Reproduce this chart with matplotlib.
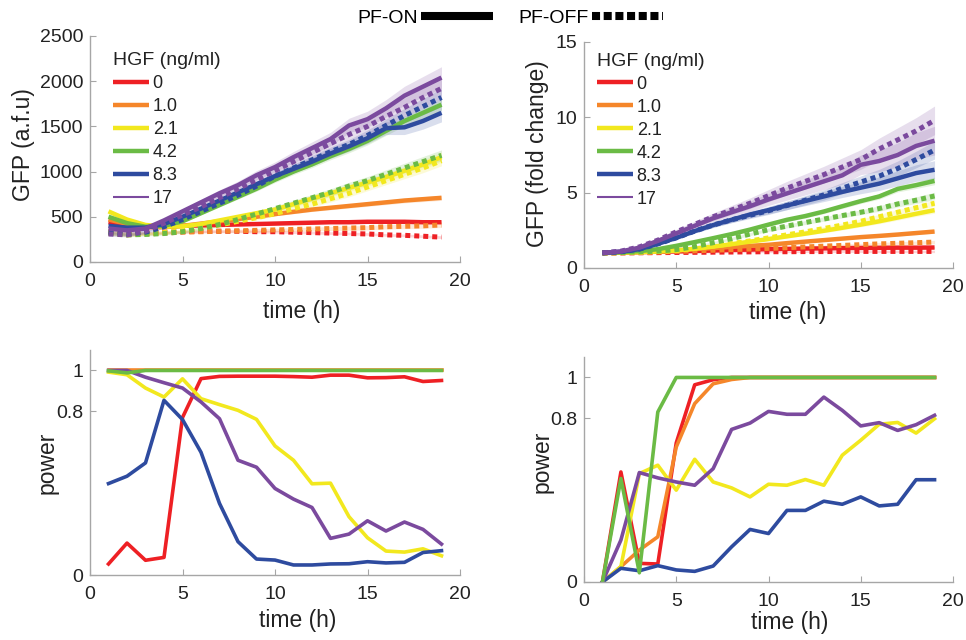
import matplotlib
matplotlib.use("Agg")
import matplotlib.pyplot as plt
from matplotlib.lines import Line2D

plt.rcParams['font.family'] = ['Liberation Sans', 'DejaVu Sans']

hours = [1, 2, 3, 4, 5, 6, 7, 8, 9, 10, 11, 12, 13, 14, 15, 16, 17, 18, 19]
hgf_labels = ['0', '1.0', '2.1', '4.2', '8.3', '17']
colors = ['#EE2024', '#F5862A', '#F2E81E', '#6BBB45', '#2E4B9F', '#7B4A9E']

# --- GFP (a.f.u), PF-ON (solid) ---
gfp_on_0 = [440, 410, 385, 390, 400, 405, 410, 415, 420, 425, 430, 435, 440, 440, 445, 445, 445, 440, 440]
gfp_on_1 = [470, 420, 390, 385, 400, 425, 450, 475, 500, 530, 555, 580, 600, 620, 640, 660, 680, 695, 710]
gfp_on_2 = [560, 470, 410, 390, 395, 420, 460, 500, 540, 580, 640, 700, 760, 820, 880, 940, 1010, 1080, 1160]
gfp_on_4 = [500, 430, 390, 400, 450, 540, 630, 720, 810, 910, 1000, 1080, 1170, 1250, 1340, 1450, 1560, 1650, 1740]
gfp_on_8 = [400, 380, 380, 420, 500, 590, 680, 770, 860, 950, 1030, 1110, 1200, 1280, 1370, 1480, 1490, 1560, 1650]
gfp_on_17 = [370, 350, 370, 460, 560, 660, 760, 850, 960, 1050, 1160, 1260, 1360, 1510, 1580, 1700, 1840, 1940, 2040]
# --- GFP (a.f.u), PF-OFF (dotted) ---
gfp_off_0 = [340, 315, 320, 330, 335, 340, 340, 340, 335, 335, 330, 325, 320, 315, 310, 300, 295, 285, 275]
gfp_off_1 = [320, 300, 310, 320, 330, 335, 340, 345, 350, 355, 360, 365, 370, 375, 380, 390, 395, 400, 410]
gfp_off_2 = [330, 310, 315, 325, 345, 375, 410, 450, 490, 535, 590, 640, 700, 760, 830, 900, 970, 1040, 1120]
gfp_off_4 = [320, 300, 305, 315, 335, 370, 415, 470, 530, 590, 650, 710, 770, 840, 900, 970, 1040, 1110, 1180]
gfp_off_8 = [330, 310, 330, 390, 470, 560, 650, 740, 840, 950, 1040, 1130, 1220, 1300, 1400, 1510, 1620, 1720, 1820]
gfp_off_17 = [310, 300, 340, 430, 520, 610, 710, 810, 910, 1010, 1110, 1210, 1310, 1410, 1500, 1610, 1710, 1820, 1920]
# band half-widths (a.f.u)
gfp_sd_0 = [20, 18, 16, 15, 15, 15, 15, 15, 15, 15, 15, 15, 15, 15, 15, 15, 15, 15, 15]
gfp_sd_1 = [20, 18, 16, 15, 15, 15, 16, 17, 18, 19, 20, 21, 22, 23, 24, 25, 26, 27, 28]
gfp_sd_2 = [25, 20, 18, 16, 16, 17, 19, 21, 24, 27, 30, 33, 36, 39, 42, 45, 48, 52, 56]
gfp_sd_4 = [25, 20, 18, 16, 16, 18, 21, 24, 27, 30, 33, 36, 39, 42, 45, 49, 53, 57, 60]
gfp_sd_8 = [25, 20, 18, 18, 20, 24, 28, 32, 36, 40, 44, 48, 52, 56, 60, 70, 80, 90, 100]
gfp_sd_17 = [25, 22, 20, 22, 26, 32, 38, 44, 50, 56, 62, 68, 74, 80, 88, 96, 104, 112, 120]

# --- GFP fold change, PF-ON (solid) ---
fc_on_0 = [1.0, 1.02, 1.05, 1.08, 1.1, 1.13, 1.16, 1.2, 1.22, 1.25, 1.27, 1.29, 1.3, 1.32, 1.33, 1.34, 1.35, 1.35, 1.36]
fc_on_1 = [1.0, 1.03, 1.07, 1.12, 1.18, 1.25, 1.32, 1.4, 1.47, 1.54, 1.65, 1.75, 1.85, 1.95, 2.05, 2.13, 2.22, 2.32, 2.42]
fc_on_2 = [1.0, 1.02, 1.05, 1.09, 1.15, 1.28, 1.42, 1.58, 1.75, 1.92, 2.1, 2.28, 2.47, 2.67, 2.88, 3.1, 3.35, 3.6, 3.84]
fc_on_4 = [1.0, 1.05, 1.12, 1.25, 1.47, 1.72, 1.98, 2.25, 2.55, 2.88, 3.2, 3.45, 3.75, 4.1, 4.44, 4.75, 5.25, 5.5, 5.78]
fc_on_8 = [1.0, 1.08, 1.25, 1.6, 2.0, 2.45, 2.85, 3.2, 3.55, 3.84, 4.15, 4.45, 4.75, 5.05, 5.33, 5.6, 5.95, 6.3, 6.52]
fc_on_17 = [1.0, 1.1, 1.35, 1.8, 2.3, 2.8, 3.3, 3.7, 4.1, 4.55, 4.95, 5.35, 5.75, 6.15, 6.85, 7.1, 7.5, 8.1, 8.45]
# --- GFP fold change, PF-OFF (dotted) ---
fc_off_0 = [1.0, 1.0, 1.01, 1.02, 1.03, 1.04, 1.05, 1.06, 1.07, 1.08, 1.08, 1.09, 1.09, 1.1, 1.1, 1.1, 1.1, 1.1, 1.1]
fc_off_1 = [1.0, 1.01, 1.03, 1.06, 1.1, 1.14, 1.18, 1.22, 1.26, 1.3, 1.35, 1.4, 1.45, 1.5, 1.55, 1.6, 1.64, 1.68, 1.72]
fc_off_2 = [1.0, 1.02, 1.05, 1.1, 1.18, 1.3, 1.45, 1.62, 1.8, 2.0, 2.2, 2.4, 2.62, 2.85, 3.1, 3.4, 3.7, 4.0, 4.3]
fc_off_4 = [1.0, 1.03, 1.07, 1.12, 1.22, 1.42, 1.68, 1.95, 2.25, 2.54, 2.78, 3.02, 3.25, 3.48, 3.7, 3.95, 4.25, 4.5, 4.78]
fc_off_8 = [1.0, 1.08, 1.25, 1.6, 2.0, 2.45, 2.85, 3.2, 3.5, 3.8, 4.15, 4.5, 4.85, 5.3, 5.71, 6.1, 6.6, 7.2, 7.83]
fc_off_17 = [1.0, 1.12, 1.4, 1.85, 2.4, 2.9, 3.4, 3.85, 4.3, 4.8, 5.3, 5.75, 6.2, 6.7, 7.2, 7.9, 8.5, 9.1, 9.8]
fc_sd_0 = [0.02, 0.02, 0.03, 0.03, 0.04, 0.04, 0.05, 0.05, 0.05, 0.06, 0.06, 0.06, 0.07, 0.07, 0.07, 0.08, 0.08, 0.08, 0.08]
fc_sd_1 = [0.02, 0.02, 0.03, 0.03, 0.04, 0.05, 0.05, 0.06, 0.06, 0.07, 0.07, 0.08, 0.08, 0.09, 0.09, 0.1, 0.1, 0.11, 0.11]
fc_sd_2 = [0.02, 0.03, 0.03, 0.04, 0.05, 0.06, 0.07, 0.08, 0.09, 0.1, 0.11, 0.12, 0.13, 0.14, 0.15, 0.16, 0.17, 0.18, 0.2]
fc_sd_4 = [0.02, 0.03, 0.04, 0.05, 0.06, 0.07, 0.08, 0.09, 0.1, 0.11, 0.12, 0.13, 0.14, 0.15, 0.16, 0.18, 0.2, 0.22, 0.25]
fc_sd_8 = [0.02, 0.04, 0.06, 0.08, 0.1, 0.13, 0.16, 0.19, 0.22, 0.25, 0.28, 0.31, 0.34, 0.37, 0.4, 0.45, 0.5, 0.55, 0.6]
fc_sd_17 = [0.03, 0.05, 0.08, 0.12, 0.16, 0.2, 0.25, 0.3, 0.35, 0.4, 0.45, 0.5, 0.55, 0.6, 0.65, 0.72, 0.8, 0.88, 0.95]

# --- power (bottom left) ---
pwl_0 = [0.054, 0.156, 0.072, 0.086, 0.77, 0.96, 0.971, 0.972, 0.972, 0.972, 0.97, 0.967, 0.977, 0.977, 0.964, 0.965, 0.969, 0.946, 0.951]
pwl_1 = [1.0, 1.0, 1.0, 1.0, 1.0, 1.0, 1.0, 1.0, 1.0, 1.0, 1.0, 1.0, 1.0, 1.0, 1.0, 1.0, 1.0, 1.0, 1.0]
pwl_2 = [0.992, 0.979, 0.914, 0.87, 0.959, 0.862, 0.833, 0.805, 0.761, 0.631, 0.561, 0.446, 0.449, 0.285, 0.182, 0.117, 0.112, 0.128, 0.094]
pwl_4 = [0.998, 0.988, 1.0, 1.0, 1.0, 1.0, 1.0, 1.0, 1.0, 1.0, 1.0, 1.0, 1.0, 1.0, 1.0, 1.0, 1.0, 1.0, 1.0]
pwl_8 = [0.447, 0.483, 0.548, 0.854, 0.76, 0.60, 0.35, 0.163, 0.078, 0.073, 0.049, 0.049, 0.054, 0.055, 0.065, 0.059, 0.062, 0.11, 0.119]
pwl_17 = [1.0, 1.0, 0.967, 0.94, 0.914, 0.846, 0.764, 0.561, 0.527, 0.423, 0.371, 0.33, 0.179, 0.2, 0.265, 0.215, 0.259, 0.223, 0.151]
# --- power (bottom right) ---
pwr_0 = [0.0, 0.538, 0.091, 0.088, 0.68, 0.964, 0.989, 1.0, 1.0, 1.0, 1.0, 1.0, 1.0, 1.0, 1.0, 1.0, 1.0, 1.0, 1.0]
pwr_1 = [0.0, 0.075, 0.156, 0.221, 0.66, 0.872, 0.969, 0.99, 1.0, 1.0, 1.0, 1.0, 1.0, 1.0, 1.0, 1.0, 1.0, 1.0, 1.0]
pwr_2 = [0.0, 0.075, 0.53, 0.571, 0.449, 0.6, 0.489, 0.46, 0.416, 0.478, 0.473, 0.501, 0.473, 0.62, 0.693, 0.771, 0.78, 0.728, 0.798]
pwr_4 = [0.0, 0.506, 0.045, 0.831, 1.0, 1.0, 1.0, 1.0, 1.0, 1.0, 1.0, 1.0, 1.0, 1.0, 1.0, 1.0, 1.0, 1.0, 1.0]
pwr_8 = [0.0, 0.067, 0.055, 0.08, 0.059, 0.052, 0.078, 0.172, 0.257, 0.237, 0.35, 0.35, 0.395, 0.38, 0.416, 0.372, 0.38, 0.5, 0.5]
pwr_17 = [0.0, 0.205, 0.535, 0.509, 0.489, 0.473, 0.554, 0.746, 0.777, 0.834, 0.82, 0.82, 0.904, 0.839, 0.763, 0.779, 0.741, 0.769, 0.815]

gfp_on = [gfp_on_0, gfp_on_1, gfp_on_2, gfp_on_4, gfp_on_8, gfp_on_17]
gfp_off = [gfp_off_0, gfp_off_1, gfp_off_2, gfp_off_4, gfp_off_8, gfp_off_17]
gfp_sd = [gfp_sd_0, gfp_sd_1, gfp_sd_2, gfp_sd_4, gfp_sd_8, gfp_sd_17]
fc_on = [fc_on_0, fc_on_1, fc_on_2, fc_on_4, fc_on_8, fc_on_17]
fc_off = [fc_off_0, fc_off_1, fc_off_2, fc_off_4, fc_off_8, fc_off_17]
fc_sd = [fc_sd_0, fc_sd_1, fc_sd_2, fc_sd_4, fc_sd_8, fc_sd_17]
pw_left = [pwl_0, pwl_1, pwl_2, pwl_4, pwl_8, pwl_17]
pw_right = [pwr_0, pwr_1, pwr_2, pwr_4, pwr_8, pwr_17]

W, H = 966, 640
fig = plt.figure(figsize=(W / 100, H / 100), dpi=100)


def px_axes(x0, x1, y_bottom, y_top):
    return fig.add_axes([x0 / W, 1 - y_bottom / H, (x1 - x0) / W, (y_bottom - y_top) / H])


ax_tl = px_axes(90, 460, 262, 36)
ax_tr = px_axes(584, 953, 268, 42)
ax_bl = px_axes(90, 460, 575, 350)
ax_br = px_axes(584, 953, 582, 357)

SPINE = '#A6A6A6'
TXT = '#222222'


def style(ax):
    for s in ['top', 'right']:
        ax.spines[s].set_visible(False)
    for s in ['left', 'bottom']:
        ax.spines[s].set_color(SPINE)
        ax.spines[s].set_linewidth(1.0)
    ax.tick_params(direction='in', length=4, width=0.8, color=SPINE,
                   labelsize=14, labelcolor=TXT)
    ax.tick_params(axis='x', pad=8)
    ax.tick_params(axis='y', pad=5)
    ax.set_xlim(0, 20)
    ax.set_xticks([0, 5, 10, 15, 20])


def labels(ax, xl, yl, xpos, ypos):
    t = ax.set_xlabel(xl, fontsize=16.5, color=TXT)
    t.set_va('center'); t.set_ha('center')
    ax.xaxis.set_label_coords(*xpos)
    t = ax.set_ylabel(yl, fontsize=16.5, color=TXT)
    t.set_va('center'); t.set_ha('center')
    ax.yaxis.set_label_coords(*ypos)


dot = (0, (1, 0.8))

for ax, on, off, sd in [(ax_tl, gfp_on, gfp_off, gfp_sd), (ax_tr, fc_on, fc_off, fc_sd)]:
    style(ax)
    for c, a, b, s in zip(colors, on, off, sd):
        ax.fill_between(hours, [v - e for v, e in zip(a, s)], [v + e for v, e in zip(a, s)],
                        color=c, alpha=0.18, lw=0)
        ax.fill_between(hours, [v - e for v, e in zip(b, s)], [v + e for v, e in zip(b, s)],
                        color=c, alpha=0.18, lw=0)
    for c, a, b, lab in zip(colors, on, off, hgf_labels):
        ax.plot(hours, b, color=c, lw=3.6, ls=dot, dash_capstyle='butt')
        ax.plot(hours, a, color=c, lw=3.2, label=lab, solid_capstyle='butt')

ax_tl.set_ylim(0, 2500)
ax_tl.set_yticks([0, 500, 1000, 1500, 2000, 2500])
ax_tr.set_ylim(0, 15)
ax_tr.set_yticks([0, 5, 10, 15])
labels(ax_tl, 'time (h)', 'GFP (a.f.u)', (0.573, -0.221), (-0.181, 0.52))
labels(ax_tr, 'time (h)', 'GFP (fold change)', (0.553, -0.195), (-0.125, 0.504))

for ax, anchor in [(ax_tl, (0.062, 0.927)), (ax_tr, (0.035, 0.952))]:
    leg = ax.legend(loc='upper left', bbox_to_anchor=anchor, frameon=False,
                    title='HGF (ng/ml)', title_fontsize=14, fontsize=13,
                    handlelength=2.0, handletextpad=0.2, labelspacing=0.33,
                    borderpad=0, borderaxespad=0, alignment='left')
    leg.get_lines()[5].set_linewidth(1.5)
    for t in leg.get_texts():
        t.set_color(TXT)
    leg.get_title().set_color(TXT)

order = [0, 1, 2, 4, 5, 3]
for ax, data in [(ax_bl, pw_left), (ax_br, pw_right)]:
    style(ax)
    for i in order:
        ax.plot(hours, data[i], color=colors[i], lw=2.6)
    ax.set_ylim(0, 1.1)
    ax.set_yticks([0, 0.8, 1])
    ax.set_yticklabels(['0', '0.8', '1'])

labels(ax_bl, 'time (h)', 'power', (0.562, -0.2), (-0.116, 0.5))
labels(ax_br, 'time (h)', 'power', (0.558, -0.182), (-0.114, 0.533))

hdl = [Line2D([], [], color='black', lw=5.8, solid_capstyle='butt'),
       Line2D([], [], color='black', lw=5.8, ls=(0, (1, 0.45)), dash_capstyle='butt')]
fig.legend(hdl, ['PF-ON', 'PF-OFF'], loc='center', bbox_to_anchor=(0.5285, 0.972),
           ncol=2, markerfirst=False, frameon=False, fontsize=14,
           handlelength=3.7, handletextpad=0.15, columnspacing=1.3, borderpad=0)

fig.savefig('out.png', dpi=100)
